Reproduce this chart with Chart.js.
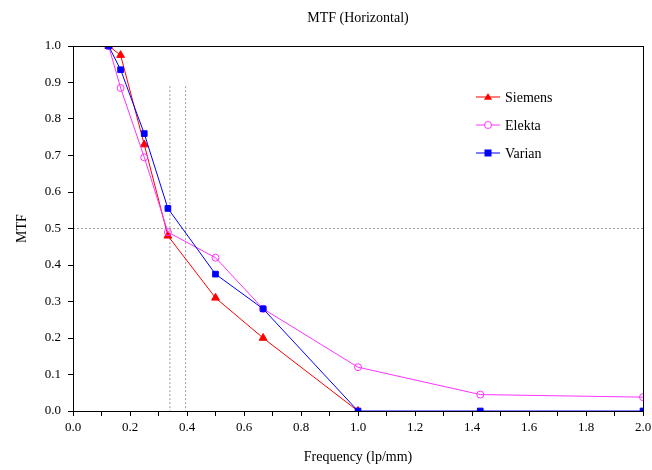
<!DOCTYPE html>
<html>
<head>
<meta charset="utf-8">
<script src="https://cdn.jsdelivr.net/npm/chart.js@4/dist/chart.umd.min.js"></script>
<style>
  html, body { margin: 0; padding: 0; background: #fff; }
  #wrap { width: 652px; height: 470px; position: relative; }
</style>
</head>
<body>
<div id="wrap"><canvas id="mtf"></canvas></div>
<script>
// Spatial frequencies (lp/mm) of the bar patterns
const freqs = [0.125, 0.167, 0.25, 0.333, 0.5, 0.667, 1.0, 1.429, 2.0];

// MTF values read per machine
const siemensMtf = [1.0, 0.975, 0.73, 0.48, 0.31, 0.2, 0.0];
const elektaMtf  = [1.0, 0.885, 0.695, 0.49, 0.42, 0.28, 0.12, 0.045, 0.038];
const varianMtf  = [1.0, 0.935, 0.76, 0.555, 0.375, 0.28, 0.0, 0.0, 0.0];

// Dotted guide lines
const guideFreqs = [0.34, 0.395];
const guideTop = 0.89;
const halfLevel = 0.5;

const serif = "'Liberation Serif', 'DejaVu Serif', serif";

function pts(values) {
  return values.map((v, i) => ({ x: freqs[i], y: v }));
}

const guideStyle = {
  borderColor: '#9a9a9a',
  borderWidth: 1,
  borderDash: [2, 2],
  pointRadius: 0,
  showLine: true,
  fill: false,
  order: 5
};

// Frame, title and in-plot legend
const decorPlugin = {
  id: 'decor',
  afterDraw(chart) {
    const { ctx, chartArea: a } = chart;
    ctx.save();
    ctx.strokeStyle = '#000';
    ctx.lineWidth = 1;
    ctx.strokeRect(a.left + 0.5, a.top + 0.5, a.right - a.left, a.bottom - a.top);

    ctx.fillStyle = '#000';
    ctx.font = '14px ' + serif;
    ctx.textAlign = 'center';
    ctx.textBaseline = 'middle';
    ctx.fillText('MTF (Horizontal)', 358, 18);

    ctx.font = '14px ' + serif;
    ctx.textAlign = 'left';
    const rows = [0, 1, 2];
    rows.forEach(i => {
      const ds = chart.data.datasets[i];
      const y = 97 + i * 28;
      ctx.strokeStyle = ds.borderColor;
      ctx.lineWidth = 1;
      ctx.beginPath();
      ctx.moveTo(476, y);
      ctx.lineTo(500, y);
      ctx.stroke();
      ctx.fillStyle = ds.pointBackgroundColor;
      ctx.strokeStyle = ds.pointBorderColor;
      const r = 4;
      if (ds.pointStyle === 'triangle') {
        ctx.beginPath();
        ctx.moveTo(488, y - r);
        ctx.lineTo(488 + r, y + r * 0.7);
        ctx.lineTo(488 - r, y + r * 0.7);
        ctx.closePath();
        ctx.fill();
      } else if (ds.pointStyle === 'circle') {
        ctx.beginPath();
        ctx.arc(488, y, 3.5, 0, Math.PI * 2);
        ctx.fillStyle = '#fff';
        ctx.fill();
        ctx.stroke();
      } else {
        ctx.fillRect(488 - 3.5, y - 3.5, 7, 7);
      }
      ctx.fillStyle = '#000';
      ctx.fillText(ds.label, 505, y + 1);
    });
    ctx.restore();
  }
};

new Chart(document.getElementById('mtf'), {
  type: 'scatter',
  data: {
    datasets: [
      {
        label: 'Siemens',
        data: pts(siemensMtf),
        showLine: true,
        borderColor: '#ff0000',
        borderWidth: 1,
        pointStyle: 'triangle',
        pointRadius: 4.5,
        pointBackgroundColor: '#ff0000',
        pointBorderColor: '#ff0000',
        order: 2
      },
      {
        label: 'Elekta',
        data: pts(elektaMtf),
        showLine: true,
        borderColor: '#ff33ff',
        borderWidth: 1,
        pointStyle: 'circle',
        pointRadius: 3.5,
        pointBackgroundColor: 'rgba(255,255,255,0)',
        pointBorderColor: '#ff33ff',
        order: 1
      },
      {
        label: 'Varian',
        data: pts(varianMtf),
        showLine: true,
        borderColor: '#0000ff',
        borderWidth: 1,
        pointStyle: 'rect',
        pointRadius: 4,
        pointBackgroundColor: '#0000ff',
        pointBorderColor: '#0000ff',
        order: 0
      },
      { ...guideStyle, label: 'g1', data: [{ x: guideFreqs[0], y: guideTop }, { x: guideFreqs[0], y: 0 }] },
      { ...guideStyle, label: 'g2', data: [{ x: guideFreqs[1], y: guideTop }, { x: guideFreqs[1], y: 0 }] },
      { ...guideStyle, label: 'g3', data: [{ x: 0, y: halfLevel }, { x: 2, y: halfLevel }] }
    ]
  },
  options: {
    responsive: true,
    maintainAspectRatio: false,
    animation: false,
    layout: { padding: { top: 46, right: 9, left: 0, bottom: 0 } },
    plugins: {
      legend: { display: false },
      tooltip: { enabled: false },
      title: { display: false }
    },
    scales: {
      x: {
        type: 'linear',
        min: 0,
        max: 2,
        afterFit: s => { s.height = 59; s.paddingRight = 0; s.paddingLeft = 0; },
        border: { display: true, color: '#000', width: 1 },
        grid: { drawOnChartArea: false, drawTicks: true, tickLength: 5, color: '#000' },
        ticks: {
          stepSize: 0.1,
          autoSkip: false,
          maxRotation: 0,
          color: '#000',
          font: { family: serif, size: 13 },
          padding: 4,
          callback: v => (Math.round(v * 10) % 2 === 0 ? v.toFixed(1) : '')
        },
        title: {
          display: true,
          text: 'Frequency (lp/mm)',
          color: '#000',
          font: { family: serif, size: 14 },
          padding: { top: 0, bottom: 4 }
        }
      },
      y: {
        type: 'linear',
        min: 0,
        max: 1,
        afterFit: s => { s.width = 73; },
        border: { display: true, color: '#000', width: 1 },
        grid: { drawOnChartArea: false, drawTicks: true, tickLength: 5, color: '#000' },
        ticks: {
          stepSize: 0.1,
          color: '#000',
          font: { family: serif, size: 13 },
          padding: 7,
          callback: v => v.toFixed(1)
        },
        title: {
          display: true,
          text: 'MTF',
          color: '#000',
          font: { family: serif, size: 14 },
          padding: { top: 14, bottom: 0 }
        }
      }
    }
  },
  plugins: [decorPlugin]
});
</script>
</body>
</html>
